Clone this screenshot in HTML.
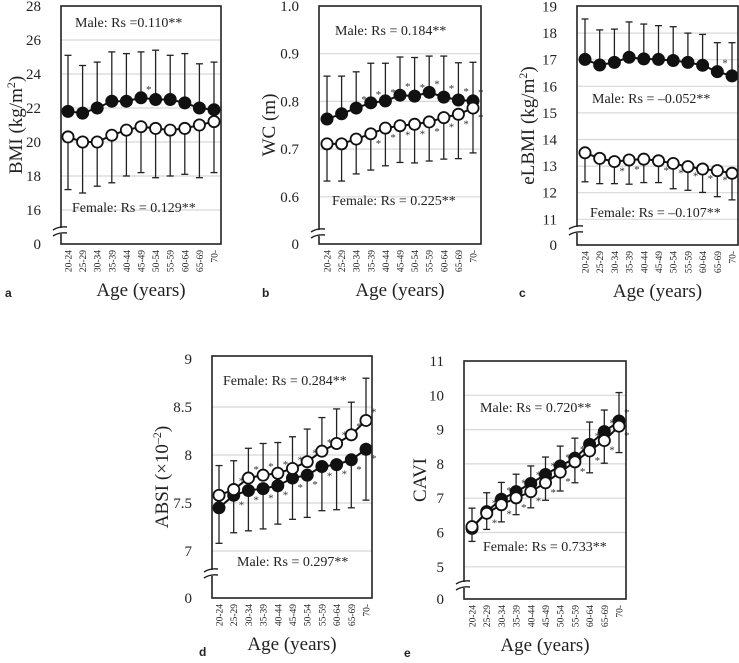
<!DOCTYPE html>
<html><head><meta charset="utf-8"><style>
html,body{margin:0;padding:0;background:#fff;}
svg{display:block;font-family:"Liberation Serif",serif;}
</style></head><body>
<svg id="c" width="739" height="663" viewBox="0 0 739 663" xmlns="http://www.w3.org/2000/svg"></svg>
<script>
const ageGroups=["20-24","25-29","30-34","35-39","40-44","45-49","50-54","55-59","60-64","65-69","70-"];
// Panel a BMI
const bmiMale=[21.8,21.7,22.0,22.4,22.4,22.6,22.5,22.5,22.3,22.0,21.9];
const bmiMaleUp=[25.1,24.5,24.7,25.3,25.2,25.3,25.4,25.1,25.2,24.6,24.7];
const bmiFemale=[20.3,20.0,20.0,20.4,20.7,20.9,20.8,20.7,20.8,21.0,21.2];
const bmiFemaleLo=[17.2,17.0,17.4,17.6,18.0,18.2,17.9,18.0,18.1,17.9,18.2];
const bmiMaleStars=[0,0,0,0,0,1,0,0,0,0,0];
const bmiFemaleStars=[0,0,0,0,0,0,0,0,0,0,0];
const bmiTicks=["28","26","24","22","20","18","16"];
// Panel b WC
const wcMale=[0.763,0.774,0.786,0.797,0.801,0.813,0.811,0.819,0.809,0.803,0.801];
const wcMaleUp=[0.853,0.853,0.862,0.880,0.880,0.893,0.892,0.895,0.895,0.881,0.882];
const wcFemale=[0.711,0.711,0.721,0.732,0.744,0.749,0.752,0.757,0.766,0.773,0.786];
const wcFemaleLo=[0.633,0.633,0.648,0.656,0.665,0.672,0.671,0.675,0.679,0.680,0.692];
const wcMaleStars=[0,0,1,1,1,1,1,1,1,1,1];
const wcFemaleStars=[0,0,0,1,1,1,1,1,1,1,1];
const wcTicks=["1.0","0.9","0.8","0.7","0.6"];
// Panel c eLBMI
const lbmMale=[17.01,16.8,16.9,17.09,17.03,17.01,16.97,16.9,16.79,16.55,16.39];
const lbmMaleUp=[18.53,18.12,18.15,18.42,18.34,18.28,18.24,18.0,17.95,17.64,17.64];
const lbmFemale=[13.5,13.29,13.17,13.23,13.26,13.2,13.1,12.98,12.89,12.83,12.73];
const lbmFemaleLo=[12.41,12.34,12.34,12.32,12.38,12.38,12.15,12.09,12.01,11.85,11.73];
const lbmMaleStars=[0,0,0,0,0,0,0,0,0,1,1];
const lbmFemaleStars=[0,0,1,1,0,1,1,1,1,1,1];
const lbmTicks=["19","18","17","16","15","14","13","12","11"];
// Panel d ABSI
const absiMale=[7.45,7.58,7.63,7.65,7.68,7.76,7.79,7.88,7.9,7.95,8.06];
const absiMaleLo=[7.08,7.19,7.21,7.23,7.28,7.33,7.35,7.42,7.43,7.45,7.53];
const absiFemale=[7.58,7.64,7.76,7.79,7.81,7.86,7.93,8.04,8.12,8.21,8.36];
const absiFemaleUp=[7.89,7.94,8.07,8.12,8.13,8.19,8.27,8.39,8.48,8.55,8.8];
const absiMaleStars=[0,1,1,1,1,1,1,1,1,1,1];
const absiFemaleStars=[0,1,1,1,1,1,1,1,1,1,1];
const absiTicks=["9","8.5","8","7.5","7"];
// Panel e CAVI
const caviMale=[6.12,6.61,6.97,7.19,7.43,7.69,7.94,8.17,8.57,8.94,9.25];
const caviMaleUp=[6.71,7.16,7.46,7.7,7.94,8.2,8.52,8.75,9.22,9.57,10.08];
const caviFemale=[6.17,6.56,6.81,7.01,7.19,7.45,7.76,8.06,8.38,8.68,9.1];
const caviFemaleLo=[5.74,6.09,6.31,6.52,6.72,6.94,7.21,7.45,7.74,8.02,8.33];
const caviMaleStars=[0,1,1,1,1,1,1,1,1,1,1];
const caviFemaleStars=[0,1,1,1,1,1,1,1,1,1,1];
const caviTicks=["11","10","9","8","7","6","5"];

const NS="http://www.w3.org/2000/svg";
const svg=document.getElementById('c');
function mk(tag,attrs,parent,name){const e=document.createElementNS(NS,tag);for(const k in attrs)e.setAttribute(k,attrs[k]);(parent||svg).appendChild(e);


return e;}

function panel(p){
  const g=mk('g',{},svg,p.id+'-panel');
  const y=v=>p.top+(p.vmax-v)*p.ppu;
  const x=i=>p.x0+i*(p.x1-p.x0)/(ageGroups.length-1);
  p.ticks.forEach((t,k)=>{const v=parseFloat(t);const yy=y(v);
    if(k>0) mk('line',{x1:p.L,x2:p.R,y1:yy,y2:yy,stroke:'#d8d8d8','stroke-width':1.2},g,'gridline');
    const tx=mk('text',{x:p.L-20,y:yy+5,'text-anchor':'end','font-size':15,fill:'#222'},g,'y-tick-label');tx.textContent=t;});
  const z=mk('text',{x:p.L-20,y:p.B+5,'text-anchor':'end','font-size':15,fill:'#222'},g,'y-tick-label');z.textContent='0';
  function series(vals,err,dir,filled,stars,nm){
    vals.forEach((v,i)=>{const ye=y(err[i]);
      mk('line',{x1:x(i),x2:x(i),y1:y(v),y2:ye,stroke:'#222','stroke-width':1.3},g,nm+'-error-bar');
      mk('line',{x1:x(i)-3.5,x2:x(i)+3.5,y1:ye,y2:ye,stroke:'#222','stroke-width':1.3},g,nm+'-error-cap');});
    let d='';vals.forEach((v,i)=>{d+=(i?'L':'M')+x(i)+' '+y(v);});
    mk('path',{d:d,fill:'none',stroke:'#111','stroke-width':2},g,nm+'-line');
    vals.forEach((v,i)=>{mk('circle',{cx:x(i),cy:y(v),r:5.6,fill:filled?'#111':'#fff',stroke:'#111','stroke-width':1.8},g,nm+'-point');
      if(stars[i]){const s=mk('text',{x:x(i)+5,y:y(v)+(dir<0?-5:13),'font-size':11,fill:'#333'},g,'significance-star');s.textContent='*';}});
  }
  p.series.forEach(s=>series(s[0],s[1],s[2],s[3],s[4],s[5]));
  mk('rect',{x:p.L,y:p.top0,width:p.R-p.L,height:p.B-p.top0,fill:'none',stroke:'#222','stroke-width':1.6},g,'plot-frame');
  const bb=p.brk;
  mk('rect',{x:p.L-6,y:bb-3,width:12,height:6,fill:'#fff'},g,'axis-break');
  mk('path',{d:`M${p.L-8} ${bb-1} q6 -4 14 -3 M${p.L-8} ${bb+5} q6 -4 14 -3`,fill:'none',stroke:'#222','stroke-width':1.4},g,'axis-break-mark');
  ageGroups.forEach((a,i)=>{const t=mk('text',{x:0,y:0,'text-anchor':'end','font-size':9.5,fill:'#222',transform:`translate(${x(i)+3.5},${p.B+6}) rotate(-90)`},g,'x-tick-label');t.textContent=a;});
  const at=mk('text',{x:(p.L+p.R)/2,y:p.B+52,'text-anchor':'middle','font-size':19,fill:'#222'},g,'x-axis-title');at.textContent='Age (years)';
  const yt=mk('text',{x:0,y:0,'text-anchor':'middle','font-size':19,fill:'#222',transform:`translate(${p.ytx},${(p.top0+p.B)/2}) rotate(-90)`},g,'y-axis-title');yt.innerHTML=p.ytitle;
  p.legend.forEach(l=>{const t=mk('text',{x:l[1],y:l[2],'font-size':14,fill:'#222'},g,'correlation-label');t.textContent=l[0];});
  const lt=mk('text',{x:p.letter[0],y:p.letter[1],'font-size':12,'font-weight':'bold','font-family':'Liberation Sans, sans-serif',fill:'#222'},g,'panel-letter');lt.textContent=p.id;
}
panel({id:'a',L:61,R:221,top0:6,B:244,top:6,vmax:28,ppu:17,x0:68,x1:214,brk:231,ticks:bmiTicks,ytx:22,ytitle:'BMI (kg/m<tspan font-size="12" dy="-7">2</tspan><tspan dy="7">)</tspan>',
 series:[[bmiMale,bmiMaleUp,-1,true,bmiMaleStars,'male'],[bmiFemale,bmiFemaleLo,1,false,bmiFemaleStars,'female']],
 legend:[["Male: Rs =0.110**",75,27],["Female: Rs = 0.129**",72,212]],letter:[5,297]});
panel({id:'b',L:319,R:481,top0:6,B:244,top:6,vmax:1.0,ppu:477,x0:327,x1:473,brk:233,ticks:wcTicks,ytx:275,ytitle:'WC (m)',
 series:[[wcMale,wcMaleUp,-1,true,wcMaleStars,'male'],[wcFemale,wcFemaleLo,1,false,wcFemaleStars,'female']],
 legend:[["Male: Rs = 0.184**",335,35],["Female: Rs = 0.225**",332,205]],letter:[262,297]});
panel({id:'c',L:577,R:738,top0:6,B:245,top:6.5,vmax:19,ppu:26.6,x0:585,x1:732,brk:230,ticks:lbmTicks,ytx:534,ytitle:'eLBMI (kg/m<tspan font-size="12" dy="-7">2</tspan><tspan dy="7">)</tspan>',
 series:[[lbmMale,lbmMaleUp,-1,true,lbmMaleStars,'male'],[lbmFemale,lbmFemaleLo,1,false,lbmFemaleStars,'female']],
 legend:[["Male: Rs = –0.052**",592,103],["Female: Rs = –0.107**",590,217]],letter:[519,297]});
panel({id:'d',L:212,R:372,top0:356,B:598,top:359,vmax:9,ppu:96,x0:219,x1:366,brk:573,ticks:absiTicks,ytx:168,ytitle:'ABSI (×10<tspan font-size="12" dy="-7">–2</tspan><tspan dy="7">)</tspan>',
 series:[[absiMale,absiMaleLo,1,true,absiMaleStars,'male'],[absiFemale,absiFemaleUp,-1,false,absiFemaleStars,'female']],
 legend:[["Female: Rs = 0.284**",223,385],["Male: Rs = 0.297**",237,566]],letter:[199,656]});
panel({id:'e',L:464,R:626,top0:361,B:599,top:361,vmax:11,ppu:34.3,x0:472,x1:619,brk:585,ticks:caviTicks,ytx:426,ytitle:'CAVI',
 series:[[caviMale,caviMaleUp,-1,true,caviMaleStars,'male'],[caviFemale,caviFemaleLo,1,false,caviFemaleStars,'female']],
 legend:[["Male: Rs = 0.720**",480,412],["Female: Rs = 0.733**",483,551]],letter:[404,657]});
</script>
</body></html>
